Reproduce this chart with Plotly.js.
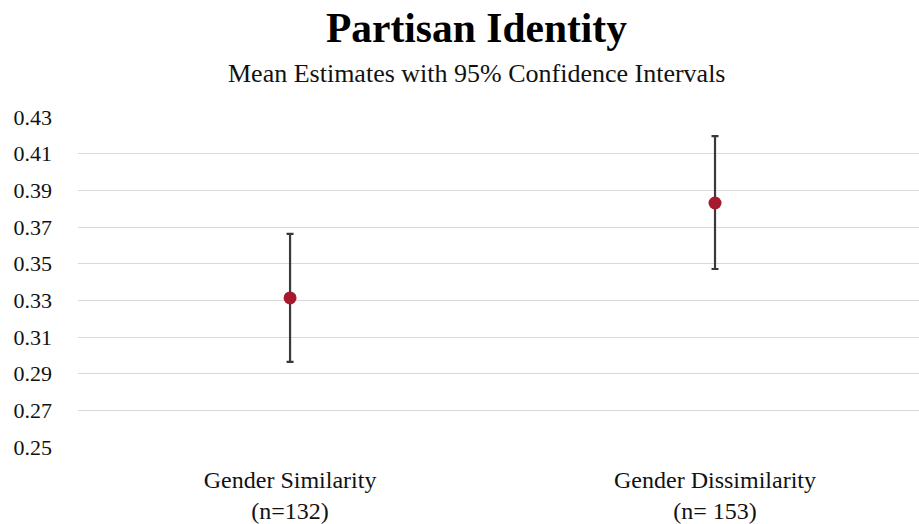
<!DOCTYPE html>
<html><head><meta charset="utf-8">
<script src="https://cdn.plot.ly/plotly-3.0.1.min.js"></script>
<style>html,body{margin:0;padding:0;background:#fff}#chart{width:919px;height:524px}</style>
</head><body><div id="chart"></div>
<script>
const categories = ["Gender Similarity<br>(n=132)", "Gender Dissimilarity<br>(n= 153)"];
const means = [0.3313, 0.3831];
const upper = [0.3662, 0.4196];
const lower = [0.2964, 0.3471];
const yTicks = [0.25, 0.27, 0.29, 0.31, 0.33, 0.35, 0.37, 0.39, 0.41, 0.43];

const xs = categories.map((_, i) => i);
const font = "'Liberation Serif', 'DejaVu Serif', serif";

Plotly.newPlot('chart', [{
  type: 'scatter', mode: 'markers',
  x: xs, y: means,
  marker: {color: '#a6192e', size: 13},
  error_y: {type: 'data', symmetric: false,
    array: means.map((m, i) => upper[i] - m),
    arrayminus: means.map((m, i) => m - lower[i]),
    color: '#3a3a3a', thickness: 2.2, width: 3.5},
  hoverinfo: 'skip'
}], {
  width: 919, height: 524,
  margin: {l: 78, r: 0, t: 117, b: 77},
  paper_bgcolor: '#fff', plot_bgcolor: '#fff',
  showlegend: false,
  font: {family: font, color: '#111'},
  xaxis: {range: [-0.499, 1.48], tickvals: xs, ticktext: categories,
    showgrid: false, zeroline: false, showline: false, ticks: '',
    ticklabelstandoff: 16,
    tickfont: {size: 24, family: font, color: '#111'}, fixedrange: true},
  yaxis: {range: [0.25, 0.43], tickvals: yTicks, ticktext: yTicks.map(v => v.toFixed(2)),
    showgrid: true, gridcolor: '#d9d9d9', gridwidth: 1, zeroline: false, showline: false,
    ticks: '', ticklabelstandoff: 25,
    tickfont: {size: 22, family: font, color: '#111'}, fixedrange: true},
  annotations: [
    {text: '<b>Partisan Identity</b>', xref: 'paper', x: 0.4744, xanchor: 'center',
     yref: 'paper', y: 1.2697, yanchor: 'middle', showarrow: false,
     font: {size: 41.5, family: font, color: '#000'}},
    {text: 'Mean Estimates with 95% Confidence Intervals', xref: 'paper', x: 0.4744, xanchor: 'center',
     yref: 'paper', y: 1.1333, yanchor: 'middle', showarrow: false,
     font: {size: 26, family: font, color: '#111'}}
  ]
}, {displayModeBar: false, staticPlot: true});
</script></body></html>
